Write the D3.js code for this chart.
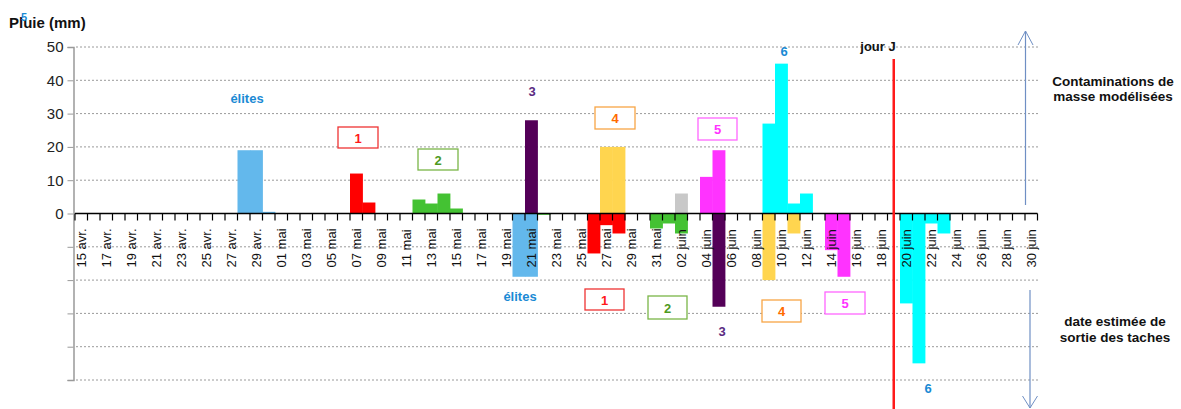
<!DOCTYPE html>
<html>
<head>
<meta charset="utf-8">
<script src="https://cdn.jsdelivr.net/npm/d3@7"></script>
<style>
  body { margin: 0; background: #fff; }
  svg { font-family: "Liberation Sans", Arial, sans-serif; }
</style>
</head>
<body>
<svg id="chart" width="1181" height="409"></svg>
<script>
// jours du 15 avr. au 30 juin
var firstDay = new Date(2021, 3, 15);
var lastDay = new Date(2021, 5, 30);
var yTicks = [-50, -40, -30, -20, -10, 0, 10, 20, 30, 40, 50];
var yLabelled = [0, 10, 20, 30, 40, 50];

// pluies contaminantes (mm), au-dessus de l'axe
var pluieElites = [["2021-04-28", 19], ["2021-04-29", 19], ["2021-04-30", 0.5]];
var pluie1 = [["2021-05-07", 12], ["2021-05-08", 3.3]];
var pluie2 = [["2021-05-12", 4.2], ["2021-05-13", 3], ["2021-05-14", 6], ["2021-05-15", 1.5]];
var pluie3 = [["2021-05-21", 28]];
var pluie4 = [["2021-05-27", 20], ["2021-05-28", 20]];
var pluieGris = [["2021-06-02", 6]];
var pluie5 = [["2021-06-04", 11], ["2021-06-05", 19]];
var pluie6 = [["2021-06-09", 27], ["2021-06-10", 45], ["2021-06-11", 3], ["2021-06-12", 6]];

// sorties de taches estimées, sous l'axe
var sortieElites = [["2021-05-20", -19], ["2021-05-21", -19]];
var sortie1 = [["2021-05-26", -12], ["2021-05-27", -3.5], ["2021-05-28", -6]];
var sortie2 = [["2021-05-22", -0.4], ["2021-05-31", -4.5], ["2021-06-01", -3], ["2021-06-02", -6]];
var sortie3 = [["2021-06-05", -28]];
var sortie4 = [["2021-06-09", -20], ["2021-06-11", -6]];
var sortie5 = [["2021-06-14", -11], ["2021-06-15", -19]];
var sortie6 = [["2021-06-20", -27], ["2021-06-21", -45], ["2021-06-22", -3], ["2021-06-23", -6]];

var jourJ = "2021-06-19";

var series = [
  { data: pluieElites, color: "#63b8ec" },
  { data: pluie1, color: "#ff0000" },
  { data: pluie2, color: "#44c233" },
  { data: pluie3, color: "#540058" },
  { data: pluie4, color: "#ffd54f" },
  { data: pluieGris, color: "#c8c8c8" },
  { data: pluie5, color: "#ff33ff" },
  { data: pluie6, color: "#00ffff" },
  { data: sortieElites, color: "#63b8ec" },
  { data: sortie1, color: "#ff0000" },
  { data: sortie2, color: "#44c233" },
  { data: sortie3, color: "#540058" },
  { data: sortie4, color: "#ffd54f" },
  { data: sortie5, color: "#ff33ff" },
  { data: sortie6, color: "#00ffff" }
];

var fr = d3.timeFormatLocale({
  dateTime: "%A %e %B %Y à %X", date: "%d/%m/%Y", time: "%H:%M:%S",
  periods: ["AM", "PM"],
  days: ["dimanche", "lundi", "mardi", "mercredi", "jeudi", "vendredi", "samedi"],
  shortDays: ["dim.", "lun.", "mar.", "mer.", "jeu.", "ven.", "sam."],
  months: ["janvier", "février", "mars", "avril", "mai", "juin", "juillet", "août", "septembre", "octobre", "novembre", "décembre"],
  shortMonths: ["janv.", "févr.", "mars", "avr.", "mai", "juin", "juil.", "août", "sept.", "oct.", "nov.", "déc."]
});
var fmtKey = d3.timeFormat("%Y-%m-%d");
var fmtLabel = fr.format("%d %b");

var days = d3.timeDay.range(firstDay, d3.timeDay.offset(lastDay, 1)).map(fmtKey);

var svg = d3.select("#chart");

var x = d3.scaleBand().domain(days).range([75, 1037.5]).padding(0);
var y = d3.scaleLinear().domain([-50, 50]).range([380, 47]);

// grille pointillée
svg.append("g").selectAll("line")
  .data(yTicks.filter(function (d) { return d !== 0; })).enter()
  .append("line")
  .attr("x1", 76).attr("x2", 1038)
  .attr("y1", function (d) { return y(d); })
  .attr("y2", function (d) { return y(d); })
  .attr("stroke", "#9a9a9a")
  .attr("stroke-width", 1)
  .attr("stroke-dasharray", "2,2");

// axe vertical
var yAxis = svg.append("g").attr("transform", "translate(73.5,0)")
  .call(d3.axisLeft(y).tickValues(yTicks).tickSize(6)
    .tickFormat(function (d) { return yLabelled.indexOf(d) >= 0 ? d : ""; }));
yAxis.select(".domain").attr("stroke", "#999").attr("stroke-width", 1.5);
yAxis.selectAll(".tick line").attr("stroke", "#999");
yAxis.selectAll(".tick text")
  .attr("x", -10)
  .style("font-size", "15px")
  .style("font-family", "Liberation Sans, Arial, sans-serif")
  .attr("fill", "#222");

// barres
series.forEach(function (s) {
  svg.append("g").selectAll("rect")
    .data(s.data).enter()
    .append("rect")
    .attr("x", function (d) { return x(d[0]); })
    .attr("width", x.bandwidth() + 0.4)
    .attr("y", function (d) { return d[1] >= 0 ? y(d[1]) : y(0); })
    .attr("height", function (d) { return Math.abs(y(d[1]) - y(0)); })
    .attr("fill", s.color);
});

// axe horizontal
var xAxis = svg.append("g").attr("transform", "translate(0," + y(0) + ")");
xAxis.append("line")
  .attr("x1", x.range()[0]).attr("x2", x.range()[1])
  .attr("stroke", "#000").attr("stroke-width", 1.5);
xAxis.selectAll(".tk")
  .data(days.concat(["end"])).enter()
  .append("line")
  .attr("class", "tk")
  .attr("x1", function (d, i) { return x.range()[0] + i * x.step(); })
  .attr("x2", function (d, i) { return x.range()[0] + i * x.step(); })
  .attr("y1", 0).attr("y2", 7)
  .attr("stroke", "#000").attr("stroke-width", 1.2);
xAxis.selectAll(".lbl")
  .data(days.filter(function (d, i) { return i % 2 === 0; })).enter()
  .append("text")
  .attr("class", "lbl")
  .attr("transform", function (d) {
    return "translate(" + (x(d) + x.bandwidth() / 2) + ",54) rotate(-90)";
  })
  .attr("dy", "0.35em")
  .style("font-size", "13px")
  .attr("fill", "#111")
  .text(function (d) { return fmtLabel(d3.timeParse("%Y-%m-%d")(d)); });

// ligne jour J
var xJ = x(jourJ) + x.bandwidth() / 2;
svg.append("line")
  .attr("x1", xJ).attr("x2", xJ)
  .attr("y1", 59).attr("y2", 409)
  .attr("stroke", "#ff1a1a").attr("stroke-width", 2.5);

// textes
function label(txt, cx, cy, color, size) {
  svg.append("text")
    .attr("x", cx).attr("y", cy)
    .attr("text-anchor", "middle")
    .style("font-size", (size || 13) + "px")
    .style("font-weight", "bold")
    .attr("fill", color)
    .text(txt);
}
function boxLabel(txt, x0, y0, x1, y1, stroke, color) {
  svg.append("rect")
    .attr("x", x0).attr("y", y0)
    .attr("width", x1 - x0).attr("height", y1 - y0)
    .attr("fill", "#fff")
    .attr("stroke", stroke).attr("stroke-width", 1.3);
  label(txt, (x0 + x1) / 2, (y0 + y1) / 2 + 5, color);
}

svg.append("text").attr("x", 9).attr("y", 28)
  .style("font-size", "15px").style("font-weight", "bold")
  .attr("fill", "#111").text("Pluie (mm)");
label("5", 24, 21, "#1a8ad4", 11);

label("élites", 247, 103, "#1a8ad4");
label("élites", 520, 301, "#1a8ad4");
label("3", 532, 96, "#5a2a82");
label("3", 722, 336, "#5a2a82");
label("6", 784, 56, "#1a8ad4");
label("6", 928, 393, "#1a8ad4");
label("jour J", 878, 51, "#111");

boxLabel("1", 338, 127, 378, 148, "#ee3333", "#ff1a1a");
boxLabel("2", 418, 149, 458, 170, "#7ab648", "#4e9a1e");
boxLabel("4", 595, 107, 635, 129, "#f8a545", "#ff6a00");
boxLabel("5", 698, 118, 737, 140, "#ff66ff", "#ff33ff");
boxLabel("1", 585, 289, 624, 310, "#ee3333", "#ff1a1a");
boxLabel("2", 648, 296, 687, 319, "#7ab648", "#4e9a1e");
boxLabel("4", 762, 300, 801, 322, "#f8a545", "#ff6a00");
boxLabel("5", 825, 292, 865, 314, "#ff66ff", "#ff33ff");

label("Contaminations de", 1113, 86, "#111", 13.5);
label("masse modélisées", 1113, 101, "#111", 13.5);
label("date estimée de", 1115, 326, "#111", 13.5);
label("sortie des taches", 1115, 342, "#111", 13.5);

// flèches
var arrowColor = "#6f8fc4";
svg.append("line").attr("x1", 1025.5).attr("x2", 1025.5).attr("y1", 205).attr("y2", 31)
  .attr("stroke", arrowColor).attr("stroke-width", 1.2);
svg.append("path").attr("d", "M1018,45 L1025.5,31 L1033,45")
  .attr("fill", "none").attr("stroke", arrowColor).attr("stroke-width", 1);
svg.append("line").attr("x1", 1030).attr("x2", 1030).attr("y1", 290).attr("y2", 408)
  .attr("stroke", arrowColor).attr("stroke-width", 1.2);
svg.append("path").attr("d", "M1022.5,396 L1030,408 L1037.5,396")
  .attr("fill", "none").attr("stroke", arrowColor).attr("stroke-width", 1);
</script>
</body>
</html>
